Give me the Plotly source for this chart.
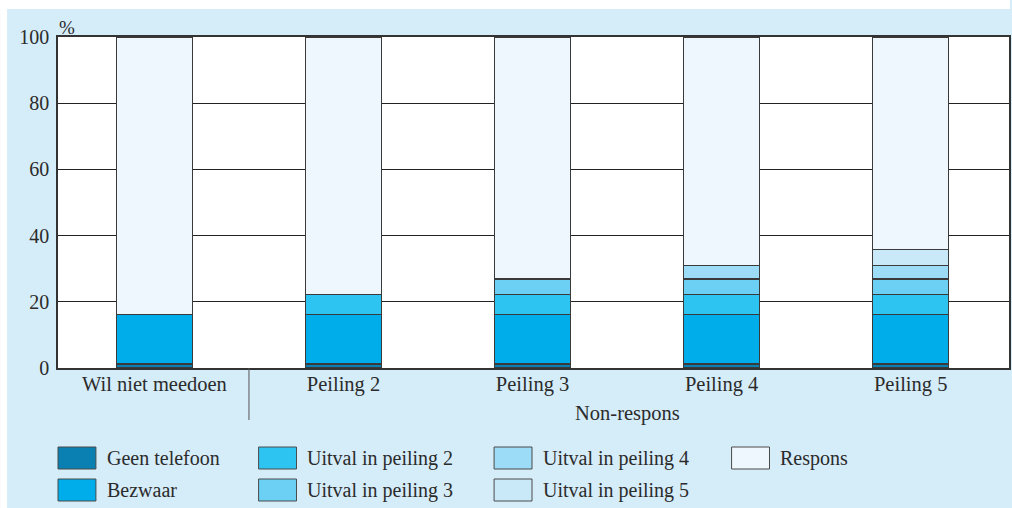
import plotly.graph_objects as go

categories = ["Wil niet meedoen", "Peiling 2", "Peiling 3", "Peiling 4", "Peiling 5"]
geen_telefoon = [1.2, 1.2, 1.2, 1.2, 1.2]
bezwaar = [14.9, 14.9, 14.9, 14.9, 14.9]
uitval_2 = [None, 6.0, 6.0, 6.0, 6.0]
uitval_3 = [None, None, 4.8, 4.8, 4.8]
uitval_4 = [None, None, None, 4.1, 4.1]
uitval_5 = [None, None, None, None, 4.7]
respons = [83.9, 77.9, 73.1, 69.0, 64.3]

series = [
    ("Geen telefoon", geen_telefoon, "#0a80b2"),
    ("Bezwaar", bezwaar, "#00adeb"),
    ("Uitval in peiling 2", uitval_2, "#2ec4f2"),
    ("Uitval in peiling 3", uitval_3, "#6ccff4"),
    ("Uitval in peiling 4", uitval_4, "#9cdcf7"),
    ("Uitval in peiling 5", uitval_5, "#c9e9f9"),
    ("Respons", respons, "#eef7fd"),
]

FONT = "Liberation Serif"
TXT = "#2b2b2b"
W, H = 1012, 508
L, R, T, B = 58, 1, 37, 140
PW, PH = W - L - R, H - T - B

def px(x):
    return (x - L) / PW

def py(y):
    return (H - B - y) / PH

fig = go.Figure()

for name, vals, color in series:
    fig.add_trace(go.Bar(
        x=categories,
        y=vals,
        name=name,
        marker=dict(color=color, line=dict(color="#3a3a3a", width=1.2)),
        width=0.4,
        showlegend=False,
    ))

# legend drawn by hand: 4 columns, 2 rows, big swatches
col_x = [58, 259, 495, 733]
row_y = [458, 490]
for i, (name, vals, color) in enumerate(series):
    c, r = divmod(i, 2)
    x0 = col_x[c]
    yc = row_y[r]
    fig.add_shape(type="rect", xref="paper", yref="paper",
                  x0=px(x0), x1=px(x0 + 38), y0=py(yc + 11), y1=py(yc - 11),
                  fillcolor=color, line=dict(color="#4a4a4a", width=1))
    fig.add_annotation(text=name, xref="paper", yref="paper",
                       x=px(x0 + 47), y=py(yc), xanchor="left", yanchor="middle",
                       showarrow=False, font=dict(family=FONT, size=20, color=TXT))

# white margin around the blue panel
fig.add_shape(type="rect", xref="paper", yref="paper", x0=px(0), x1=px(W),
              y0=py(9), y1=py(0), fillcolor="white", line_width=0, layer="above")
fig.add_shape(type="rect", xref="paper", yref="paper", x0=px(0), x1=px(7),
              y0=py(H), y1=py(0), fillcolor="white", line_width=0, layer="above")

# separator under the x axis and group label
fig.add_shape(type="line", xref="x", yref="paper", x0=0.5, x1=0.5,
              y0=0, y1=py(420), line=dict(color="#555555", width=1))
fig.add_annotation(text="Non-respons", xref="x", yref="paper", x=2.5, y=py(413),
                   showarrow=False, xanchor="center", yanchor="middle",
                   font=dict(family=FONT, size=20.5, color=TXT))
fig.add_annotation(text="%", xref="paper", yref="paper", x=px(57), y=py(27),
                   showarrow=False, xanchor="left", yanchor="middle",
                   font=dict(family=FONT, size=19, color=TXT))

fig.update_layout(
    width=W, height=H,
    margin=dict(l=L, r=R, t=T, b=B),
    barmode="stack",
    paper_bgcolor="#d5ecf9",
    plot_bgcolor="white",
    font=dict(family=FONT, size=20, color=TXT),
)
fig.update_xaxes(
    range=[-0.51, 4.52],
    showgrid=False,
    showline=True, mirror=True, linecolor="#333333", linewidth=1.5,
    ticks="", ticklabelstandoff=-3,
    tickfont=dict(family=FONT, size=20.5, color=TXT),
)
fig.update_yaxes(
    range=[0, 100],
    tickvals=[0, 20, 40, 60, 80, 100],
    showgrid=True, gridcolor="#222222", gridwidth=1,
    showline=True, mirror=True, linecolor="#333333", linewidth=1.5,
    zeroline=False,
    ticks="", ticklabelstandoff=3,
    tickfont=dict(family=FONT, size=20, color=TXT),
)

fig.write_html(
    "out.html",
    config={"displayModeBar": False},
    post_script="document.body.style.margin='0';document.body.style.overflow='hidden';",
)
